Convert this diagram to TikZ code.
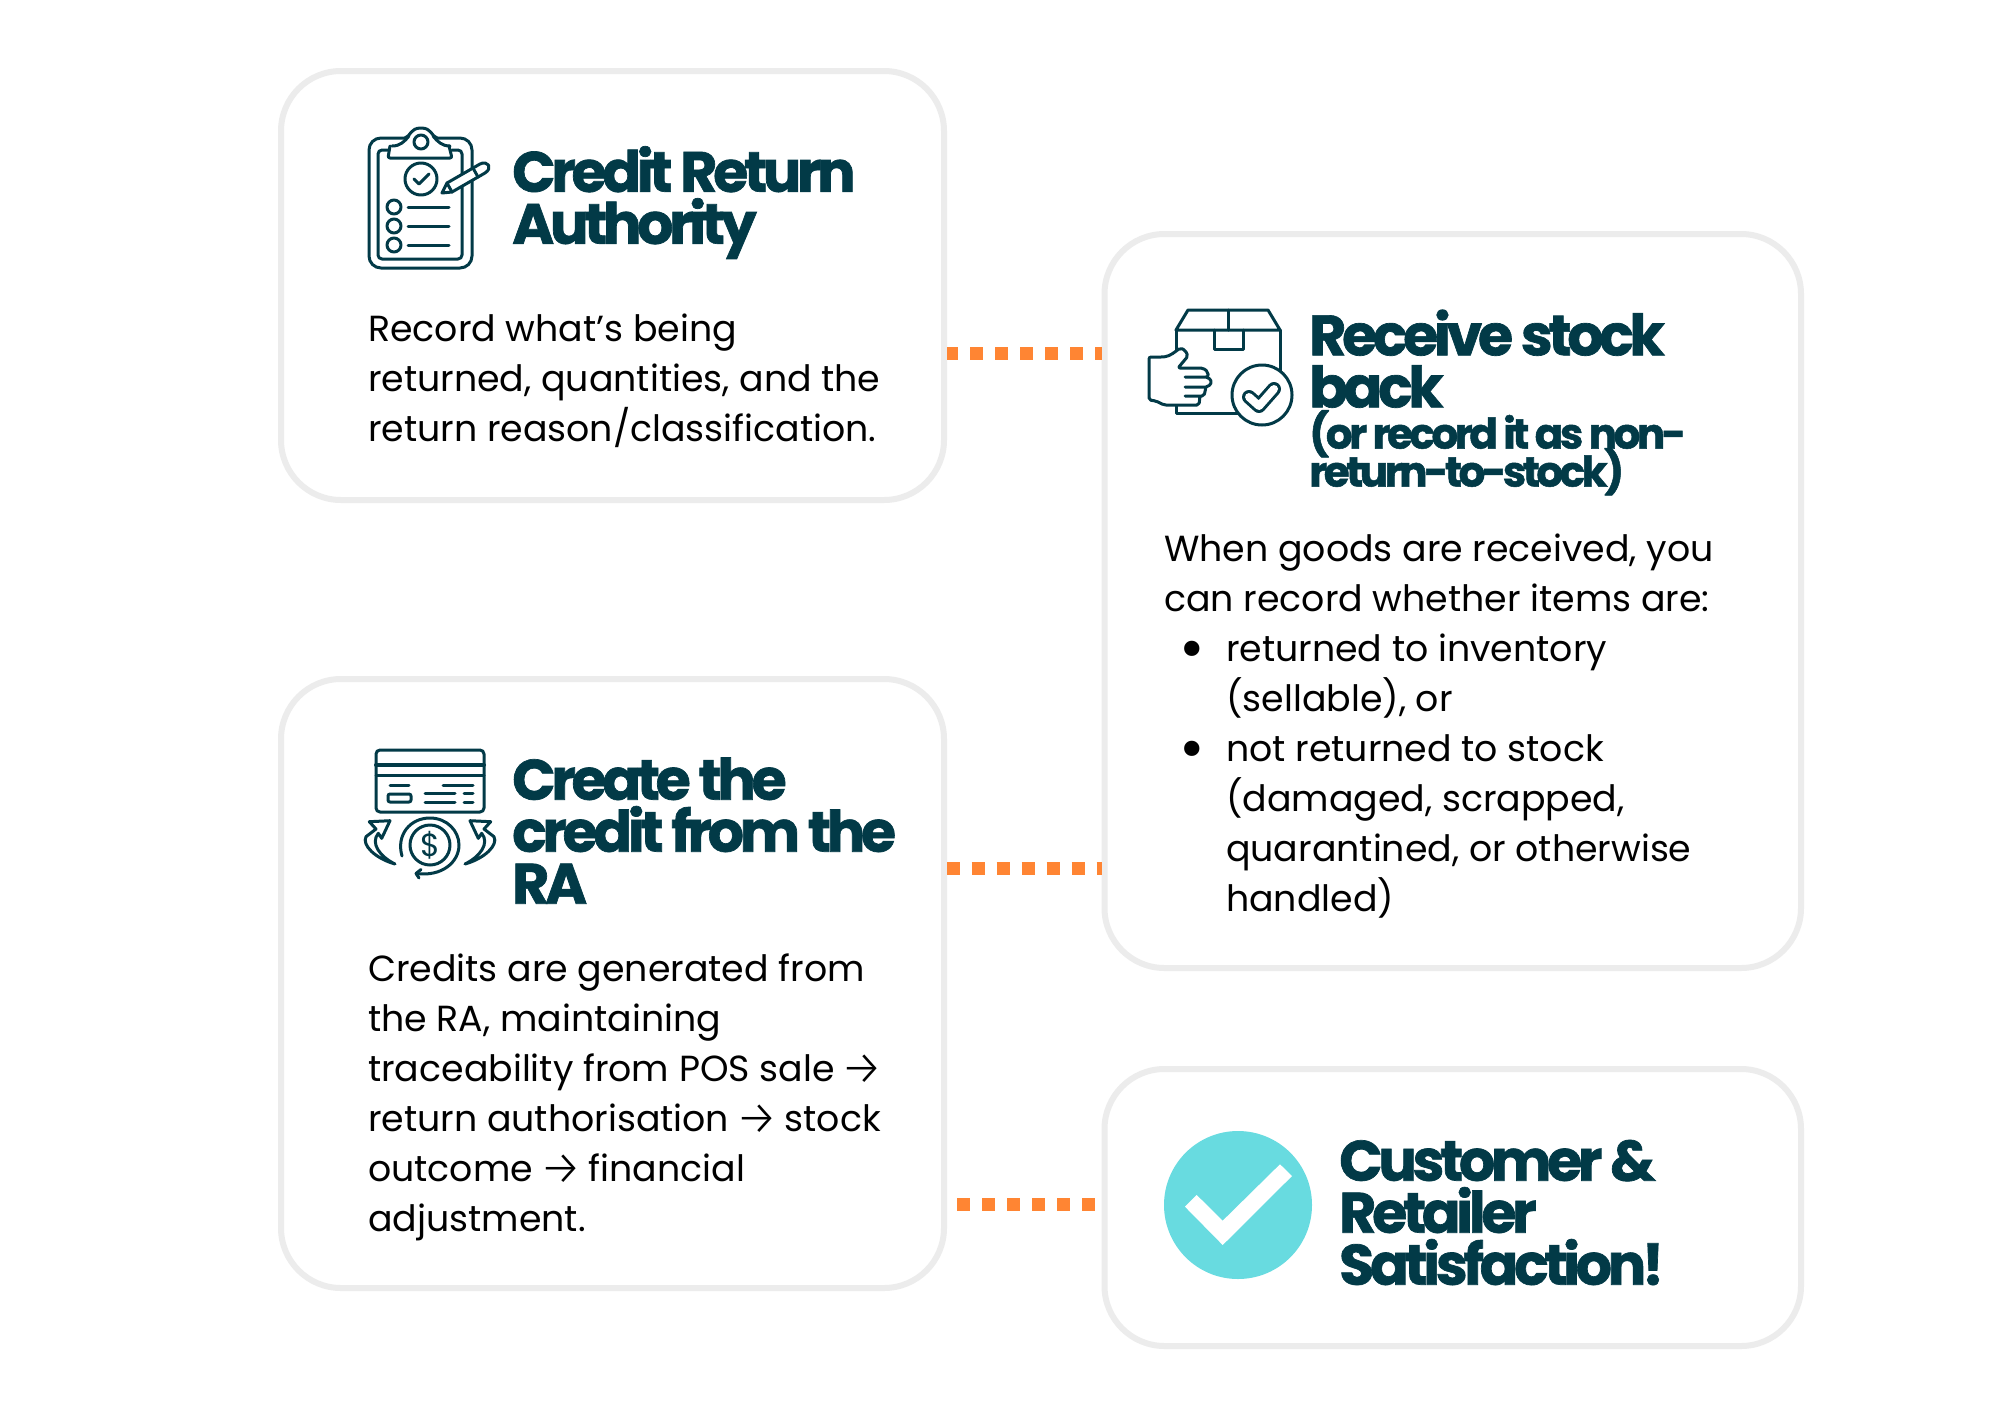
\documentclass[tikz,border=0pt]{standalone}
\usepackage{fontspec}
\setmainfont{Poppins}
\newfontfamily\titlef[LetterSpace=-7.5,FakeBold=1.2]{Poppins Bold}
\newfontfamily\subf[LetterSpace=-8.2,FakeBold=1.2]{Poppins Bold}
\newfontfamily\arrowf{Fira Sans Light}
\usetikzlibrary{calc}
\definecolor{ink}{HTML}{023A47}
\definecolor{edge}{HTML}{ECECEC}
\definecolor{dots}{HTML}{FF8533}
\definecolor{teal}{HTML}{68DBE0}
\lineskiplimit=-1000pt
\newcommand{\tarrow}{\hspace{-3.5pt}\raisebox{-3.5pt}{\arrowf\fontsize{48}{50}\selectfont →}\hspace{-3.5pt}}
\newcommand{\bodystrut}{\rule{0pt}{30pt}}
\newcommand{\titlestrut}{\rule{0pt}{45pt}}
\newcommand{\substrut}{\rule{0pt}{34pt}}
\newcommand{\bigbullet}{\llap{\raisebox{-8.5pt}{\fontsize{62}{50}\selectfont •}\hspace{21pt}}}
\tikzset{
  panel/.style={draw=edge,line width=6pt,rounded corners=60pt,fill=none,inner sep=0pt},
  dotted link/.style={draw=dots,line width=13pt,dash pattern=on 13pt off 12pt},
  bodytext/.style={anchor=north west,inner sep=0pt,align=left,text=black,font=\fontsize{36.3}{50}\selectfont},
  titletext/.style={anchor=north west,inner sep=0pt,align=left,text=ink,font=\titlef\fontsize{57}{52}\selectfont},
  subtext/.style={anchor=north west,inner sep=0pt,align=left,text=ink,font=\subf\fontsize{42}{38}\selectfont},
  icon/.style={draw=ink,line width=3pt,line cap=round,line join=round,fill=none}
}
\begin{document}
\begin{tikzpicture}[x=1pt,y=-1pt]
\useasboundingbox[fill=white] (0,0) rectangle (2000,1414);
% panels
\node[panel,minimum width=663pt,minimum height=429pt] (ca) at (612.5,285.5) {};
\node[panel,minimum width=696.5pt,minimum height=734pt] (rs) at (1452.75,601) {};
\node[panel,minimum width=663pt,minimum height=609pt] (cc) at (612.5,983.5) {};
\node[panel,minimum width=696.5pt,minimum height=277pt] (cs) at (1452.75,1207.5) {};
% connectors
\coordinate (la) at (0,353.3);
\coordinate (lb) at (0,868);
\coordinate (lc) at (0,1204);
\draw[dotted link,dash phase=1.7pt] (ca.east |- la) -- (rs.west |- la);
\draw[dotted link,dash phase=0.3pt] (cc.east |- lb) -- (rs.west |- lb);
\draw[dotted link] ([xshift=10pt]cc.east |- lc) -- ([xshift=-7pt]cs.west |- lc);
% titles
\node[titletext] (t1) at (512,146) {\titlestrut Credit Return\\Authority};
\node[titletext] (t2) at (1309,309.5) {\titlestrut Receive stock\\back};
\node[subtext] (t2b) at (1309,410) {\substrut(or record it as non-\\return-to-stock)};
\node[titletext] (t3) at (512,754.5) {\titlestrut Create the\\credit from the\\RA};
\node[titletext] (t4) at (1339,1135.5) {\titlestrut Customer \&\\Retailer\\Satisfaction!};
% body
\node[bodytext] (b1) at (368,311) {\bodystrut Record what’s being\\returned, quantities, and the\\return reason/classification.};
\node[bodytext] (b2) at (1164,531) {\bodystrut When goods are received, you\\can record whether items are:\\
\hspace*{62pt}\bigbullet returned to inventory\\
\hspace*{62pt}(sellable), or\\
\hspace*{62pt}\bigbullet not returned to stock\\
\hspace*{62pt}(damaged, scrapped,\\
\hspace*{62pt}quarantined, or otherwise\\
\hspace*{62pt}handled)};
\node[bodytext] (b3) at (368,951) {\bodystrut Credits are generated from\\the RA, maintaining\\traceability from POS sale \tarrow\\return authorisation \tarrow{} stock\\outcome \tarrow{} financial\\adjustment.};
% clipboard icon
\begin{scope}[icon]
\draw[rounded corners=12pt] (405,138) -- (369,138) -- (369,268) -- (472,268) -- (472,138) -- (437,138);
\draw (405,138) .. controls (411,136) and (410,128) .. (421,128) .. controls (432,128) and (431,136) .. (437,138);
\draw[rounded corners=4pt] (388,150) -- (378,150) -- (378,259) -- (462,259) -- (462,150) -- (452,150);
\draw (392,146) .. controls (400,146) and (404,142) .. (409,136);
\draw (450,146) .. controls (442,146) and (438,142) .. (433,136);
\draw[rounded corners=2pt] (390,146) -- (388,158) -- (452,158) -- (449,146);
\draw (421,142) circle[radius=7];
\draw (421,179) circle[radius=16];
\draw (414,179) -- (419,184) -- (429,174);
\foreach \cy in {207,226,245} {
  \draw (394,\cy) circle[radius=7];
  \draw (408,\cy) -- (449,\cy);
}
\draw[fill=white] (442,193) -- (447,183) -- (480,164) .. controls (488,160) and (493,168) .. (485,173) -- (452,192) -- cycle;
\draw (447,183) -- (452,192);
\draw (473,168) -- (478,177);
\end{scope}
% parcel icon
\begin{scope}[icon]
\draw (1176,330) -- (1188,310) -- (1268,310) -- (1280,330) -- cycle;
\draw (1228,310) -- (1228,330);
\draw (1214,330) -- (1214,349) -- (1243,349) -- (1243,330);
\draw (1176,330) -- (1176,413) -- (1280,413) -- (1280,330);
\draw[fill=white,rounded corners=2pt] (1149,357) -- (1163,357) .. controls (1170,356) and (1175,352) .. (1180,348) -- (1185,350) -- (1188,356) -- (1178,368) -- (1203,368) -- (1208,372) -- (1208,377) -- (1184,377) -- (1208,377) -- (1212,382) -- (1208,387) -- (1184,387) -- (1206,387) -- (1204,396) -- (1184,396) -- (1200,396) -- (1199,405) -- (1164,405) -- (1156,401) -- (1149,400) -- cycle;
\draw[fill=white] (1262,395) circle[radius=30];
\draw[line width=14pt] (1249,397) -- (1259,406) -- (1274,389);
\draw[white,line width=8pt] (1249,397) -- (1259,406) -- (1274,389);
\end{scope}
% card icon
\begin{scope}[icon]
\draw[rounded corners=4pt] (376,750) rectangle (484,812);
\draw[line width=4pt] (376,765) -- (484,765);
\draw (376,775) -- (484,775);
\draw (390,785) -- (409,785);
\draw (443,785) -- (473,785);
\draw[rounded corners=2pt] (388,794) rectangle (411,802);
\draw (425,793) -- (455,793);
\draw (425,802) -- (455,802);
\draw (464,793) -- (473,793);
\draw (464,802) -- (473,802);
\draw (430,845) circle[radius=20];
\draw (402,856) .. controls (396,835) and (410,818) .. (430,818) .. controls (447,818) and (459,831) .. (459,845) .. controls (459,862) and (442,877) .. (416,873.5);
\draw (421,869.5) -- (416,873.5) -- (419,878);
\draw (395,864) .. controls (375,858.3) and (361.7,845) .. (366,836.7) -- (376,829) -- (369.3,821.7) -- (390,820.7) -- (381.7,838.3) -- (378.3,833.3) .. controls (370,843.3) and (380,856.7) .. (395,864);
\draw (465,864) .. controls (485,858.3) and (498.3,845) .. (494,836.7) -- (484,829) -- (490.7,821.7) -- (470,820.7) -- (478.3,838.3) -- (481.7,833.3) .. controls (490,843.3) and (480,856.7) .. (465,864);
\end{scope}
\node[inner sep=0pt,text=ink,font=\fontsize{32}{32}\selectfont] (dollar) at (430,845) {\$};
% check badge
\node[circle,fill=teal,minimum size=148pt,inner sep=0pt] (badge) at (1238,1205) {};
\fill[white] (1185,1206.7) -- (1196.7,1195) -- (1222.7,1220.7) -- (1280,1164.3) -- (1292,1176) -- (1222.7,1245) -- cycle;
\end{tikzpicture}
\end{document}
